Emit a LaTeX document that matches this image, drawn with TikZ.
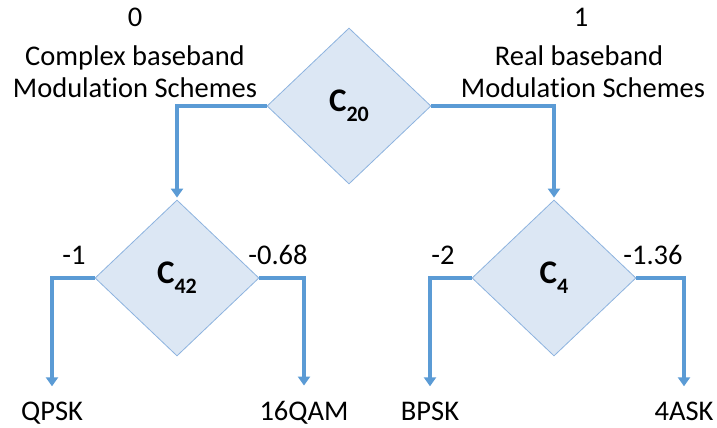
\documentclass[tikz,border=0pt]{standalone}
\usepackage{fontspec}
\setmainfont{Carlito}
\usetikzlibrary{shapes.geometric,arrows.meta}
\definecolor{flowline}{HTML}{5B9BD5}
\definecolor{decfill}{HTML}{DCE7F4}
\definecolor{decedge}{HTML}{8DB3DF}
\tikzset{
  decision/.style={diamond, draw=decedge, fill=decfill, line width=0.8pt,
    minimum width=164pt, minimum height=156pt, inner sep=0pt,
    font=\fontsize{33}{34}\selectfont\bfseries},
  flow/.style={draw=flowline, line width=3.2pt,
    -{Triangle[width=12pt,length=9pt]}},
  txt/.style={inner sep=0pt, anchor=base, font=\fontsize{28.5}{30}\selectfont},
}
\newcommand{\subidx}[1]{\raisebox{-0.3em}{\fontsize{22}{22}\selectfont\bfseries #1}}
% keep "t" and "i" as separate letters
\newcommand{\modword}{Modulat\kern0pt ion}
\begin{document}
\begin{tikzpicture}[x=1pt,y=-1pt]
  \useasboundingbox (0,0) rectangle (717,428);

  % decision diamonds
  \node[decision] (c20) at (349,106) {C\subidx{20}};
  \node[decision] (c42) at (177,278) {C\subidx{42}};
  \node[decision] (c4)  at (554,278) {C\subidx{4}};

  % class captions above the root
  \node[txt] (zero) at (135,27) {0};
  \node[txt] (cpx1) at (135,66) {Complex baseband};
  \node[txt] (cpx2) at (135,97) {\modword{} Schemes};
  \node[txt] (one)  at (581,27) {1};
  \node[txt] (real1) at (579,66) {Real baseband};
  \node[txt] (real2) at (583,97) {\modword{} Schemes};

  % threshold values
  \node[txt] (v1)  at (74,264)  {-1};
  \node[txt] (v2)  at (278,264) {-0.68};
  \node[txt] (v3)  at (443,264) {-2};
  \node[txt] (v4)  at (653,264) {-1.36};

  % leaf classes
  \node[txt] (qpsk)  at (52,420)  {QPSK};
  \node[txt] (qam16) at (304,420) {16QAM};
  \node[txt] (bpsk)  at (430,420) {BPSK};
  \node[txt] (ask4)  at (684,420) {4ASK};

  % connectors
  \draw[flow, shorten >=2pt] (c20.west) -| (c42.north);
  \draw[flow, shorten >=2pt] (c20.east) -| (c4.north);
  \draw[flow, shorten >=15pt] (c42.west) -| (qpsk.north);
  \draw[flow, shorten >=15pt] (c42.east) -| (qam16.north);
  \draw[flow, shorten >=15pt] (c4.west) -| (bpsk.north);
  \draw[flow, shorten >=15pt] (c4.east) -| (ask4.north);
\end{tikzpicture}
\end{document}
